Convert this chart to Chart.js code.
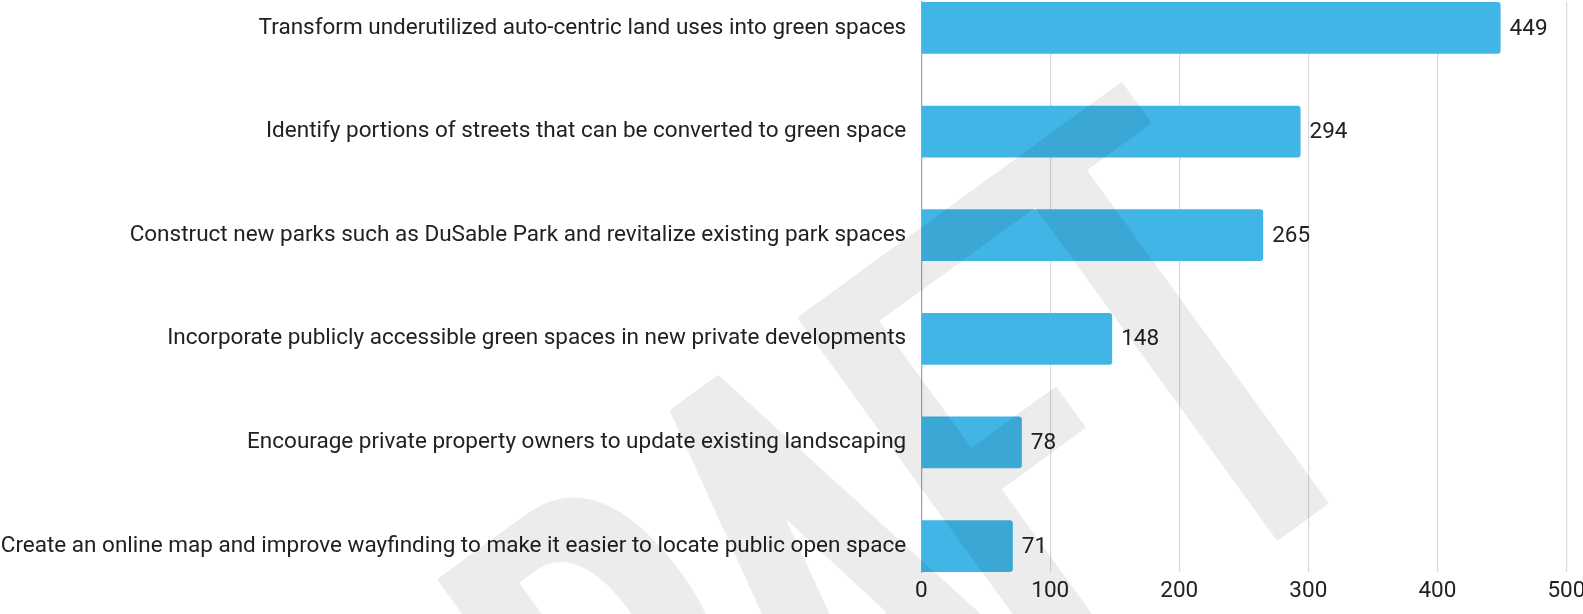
<!DOCTYPE html>
<html>
<head>
<meta charset="utf-8">
<script src="https://cdn.jsdelivr.net/npm/chart.js@4"></script>
<style>
  html, body { margin: 0; padding: 0; background: #fff; }
  #wrap { width: 1583px; height: 614px; }
</style>
</head>
<body>
<div id="wrap"><canvas id="strategyChart" width="1583" height="614"></canvas></div>
<script>
// Survey responses per strategy
const categories = [
  "Transform underutilized auto-centric land uses into green spaces",
  "Identify portions of streets that can be converted to green space",
  "Construct new parks such as DuSable Park and revitalize existing park spaces",
  "Incorporate publicly accessible green spaces in new private developments",
  "Encourage private property owners to update existing landscaping",
  "Create an online map and improve wayfinding to make it easier to locate public open space"
];
const responses = [449, 294, 265, 148, 78, 71];
const xTicks = [0, 100, 200, 300, 400, 500];

const textColor = "#212121";
const labelFont = { family: "Roboto", size: 22.5 };

// value printed just past the end of each bar
const valueLabels = {
  id: "valueLabels",
  afterDatasetsDraw(chart) {
    const ctx = chart.ctx;
    const meta = chart.getDatasetMeta(0);
    ctx.save();
    ctx.font = "22.5px Roboto";
    ctx.fillStyle = textColor;
    ctx.textAlign = "left";
    ctx.textBaseline = "middle";
    meta.data.forEach((bar, i) => {
      ctx.fillText(String(responses[i]), bar.x + 9, bar.y + 1);
    });
    ctx.restore();
  }
};

// big faint "DRAFT" stamp across the chart
const draftStamp = {
  id: "draftStamp",
  afterDraw(chart) {
    const ctx = chart.ctx;
    const off = document.createElement("canvas");
    off.width = chart.width;
    off.height = chart.height;
    const w = off.getContext("2d");
    const text = "DRAFT";
    const smear = 58;
    w.font = "400 650px Roboto";
    const lead = w.measureText("DRAF").width;
    const tWidth = w.measureText("T").width;
    w.translate(1300, 524);
    w.rotate(-36 * Math.PI / 180);
    w.scale(0.54, 1);
    w.fillStyle = "#000";
    w.textBaseline = "alphabetic";
    const x0 = -(lead + tWidth / 2) - smear / 2;
    for (let k = 0; k <= smear; k += 2) {
      w.fillText(text, x0 + k, 0);
    }
    ctx.save();
    ctx.globalAlpha = 0.075;
    ctx.drawImage(off, 0, 0);
    ctx.restore();
  }
};

const ctx = document.getElementById("strategyChart").getContext("2d");

new Chart(ctx, {
  type: "bar",
  data: {
    datasets: [{
      data: responses.map((v, i) => ({ x: v, y: i })),
      backgroundColor: "#41b6e6",
      borderRadius: { topRight: 3, bottomRight: 3 },
      borderSkipped: "start",
      barPercentage: 0.5,
      categoryPercentage: 1
    }]
  },
  options: {
    indexAxis: "y",
    responsive: false,
    animation: false,
    layout: { padding: { top: 2, right: 16.6, left: 0, bottom: 0 } },
    plugins: { legend: { display: false }, tooltip: { enabled: false } },
    scales: {
      x: {
        type: "linear",
        min: xTicks[0],
        max: xTicks[xTicks.length - 1],
        afterBuildTicks: s => { s.ticks = xTicks.map(v => ({ value: v })); },
        afterFit: s => { s.height = 42; s.paddingLeft = 0; s.paddingRight = 0; },
        ticks: { font: labelFont, color: textColor, padding: 6, maxRotation: 0 },
        grid: { color: "#d9d9d9", lineWidth: 1.2, drawTicks: false },
        border: { display: false }
      },
      y: {
        type: "linear",
        reverse: true,
        offset: false,
        min: -0.25,
        max: categories.length - 0.75,
        afterBuildTicks: s => { s.ticks = categories.map((c, i) => ({ value: i })); },
        afterFit: s => { s.width = 921.2; s.paddingTop = 0; s.paddingBottom = 0; },
        ticks: {
          font: labelFont,
          color: textColor,
          padding: 15,
          autoSkip: false,
          callback: v => categories[v]
        },
        grid: { display: false, drawTicks: false, offset: false },
        border: { color: "#a6a6a6", width: 1.2 }
      }
    }
  },
  plugins: [valueLabels, draftStamp]
});
</script>
</body>
</html>
